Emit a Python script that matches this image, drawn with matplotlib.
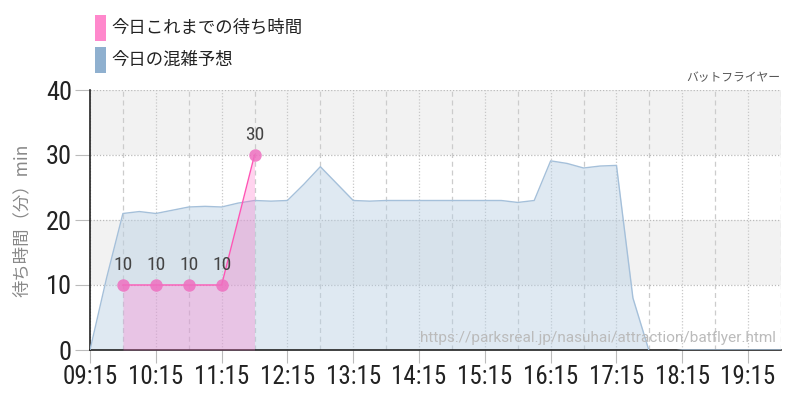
import numpy as np
import matplotlib
matplotlib.use("Agg")
import matplotlib.pyplot as plt
from matplotlib.patches import Rectangle

# forecast (blue) every 15 min
forecast_times = ["09:15", "09:30", "09:45", "10:00", "10:15", "10:30", "10:45", "11:00",
                  "11:15", "11:30", "11:45", "12:00", "12:15", "12:30", "12:45", "13:00",
                  "13:15", "13:30", "13:45", "14:00", "14:15", "14:30", "14:45", "15:00",
                  "15:15", "15:30", "15:45", "16:00", "16:15", "16:30", "16:45", "17:00",
                  "17:15", "17:30", "17:45", "18:00", "18:15", "18:30", "18:45", "19:00",
                  "19:15", "19:30", "19:45"]
forecast_wait = [0, 11, 21, 21.3, 21, 21.5, 22, 22.1,
                 22, 22.6, 23, 22.9, 23, 25.5, 28.2, 25.6,
                 23, 22.9, 23, 23, 23, 23, 23, 23,
                 23, 23, 22.7, 23, 29.1, 28.7, 28.0, 28.3,
                 28.4, 8, -0.3, -0.3, 0, 0, 0, 0,
                 0, 0, 0]

# actual (pink)
actual_times = ["09:45", "10:15", "10:45", "11:15", "11:45"]
actual_wait = [10, 10, 10, 10, 30]

hour_labels = ["09:15", "10:15", "11:15", "12:15", "13:15", "14:15",
               "15:15", "16:15", "17:15", "18:15", "19:15"]

legend_labels = ["今日これまでの待ち時間", "今日の混雑予想"]
legend_colors = ["#ff88cc", "#8fb0cf"]
title = "バットフライヤー"
ylabel = "待ち時間（分）min"
source_url = "https://parksreal.jp/nasuhai/attraction/batflyer.html"


def to_min(s):
    h, m = s.split(":")
    return int(h) * 60 + int(m)


fx = np.array([to_min(t) for t in forecast_times])
fy = np.array(forecast_wait)
ax_ = np.array([to_min(t) for t in actual_times])
ay = np.array(actual_wait)

num_font = "Roboto Condensed"
cjk = ["Noto Sans CJK JP", "DejaVu Sans"]

fig = plt.figure(figsize=(8, 4), dpi=100)
ax = fig.add_axes([90 / 800, 50 / 400, 691 / 800, 260 / 400])

xmin, xmax = to_min("09:15"), to_min("19:45")
ax.set_xlim(xmin, xmax)
ax.set_ylim(0, 40)

# background bands
for lo, hi, c in [(0, 10, "white"), (10, 20, "#f2f2f2"), (20, 30, "white"), (30, 40, "#f2f2f2")]:
    ax.axhspan(lo, hi, color=c, zorder=0, lw=0)

# grid
for t in range(xmin, xmax + 1, 30):
    if (t - xmin) % 60 == 0:
        ax.axvline(t, color="#c8c8c8", lw=0.9, ls=(0, (1, 1.5)), zorder=1)
    else:
        ax.axvline(t, color="#cccccc", lw=0.9, ls=(0, (4, 3)), zorder=1)
for v in [10, 20, 30, 40]:
    ax.axhline(v, color="#bbbbbb", lw=0.9, ls=(0, (1, 1.5)), zorder=1)

# forecast
ax.fill_between(fx, fy, 0, color="#b8cfe3", alpha=0.45, lw=0, zorder=2)
ax.plot(fx, fy, color="#a5c0da", lw=1.0, zorder=3)

# actual
ax.fill_between(ax_, ay, 0, color="#ff70c8", alpha=0.3, lw=0, zorder=4)
ax.plot(ax_, ay, color="#ff55b5", lw=1.0, zorder=5)
ax.plot(ax_, ay, "o", ms=9, color="#ee70c0", alpha=0.85, mec="none", zorder=6)
for x, y in zip(ax_, ay):
    ax.annotate(str(y), (x, y), xytext=(0, 8), textcoords="offset points",
                ha="center", va="bottom", fontsize=14, family=num_font,
                color="#444444", zorder=7)

# axes styling
for s in ["top", "right"]:
    ax.spines[s].set_visible(False)
ax.spines["left"].set_color("#222222")
ax.spines["bottom"].set_color("#222222")
ax.spines["left"].set_linewidth(1.2)
ax.spines["bottom"].set_linewidth(1.2)

ax.set_yticks([0, 10, 20, 30, 40])
ax.set_xticks([to_min(t) for t in hour_labels])
ax.set_xticklabels(hour_labels)
ax.tick_params(axis="y", length=11, width=0.8, color="#bbbbbb", pad=2, labelsize=19, labelcolor="#222222")
ax.tick_params(axis="x", length=9, width=0.8, color="#bbbbbb", pad=2, labelsize=18, labelcolor="#222222")
for lab in ax.get_xticklabels() + ax.get_yticklabels():
    lab.set_family(num_font)

ax.set_ylabel(ylabel, family=cjk, fontsize=12.5, color="#888888")
ax.yaxis.set_label_coords(-0.085, 0.5)

# title and source
fig.text(780 / 800, 1 - 78 / 400, title, ha="right", va="center", family=cjk, fontsize=8.5, color="#555555")
ax.text(0.993, 0.045, source_url, transform=ax.transAxes, ha="right", va="center",
        family="Roboto", fontsize=11.1, color="#bbbbbb", zorder=8)

# legend
for i, (lab, c) in enumerate(zip(legend_labels, legend_colors)):
    top = 15 + i * 32
    fig.patches.append(Rectangle((95 / 800, 1 - (top + 26) / 400), 11 / 800, 26 / 400,
                                 transform=fig.transFigure, color=c, lw=0))
    fig.text(111 / 800, 1 - (top + 13) / 400, lab, ha="left", va="center",
             family=cjk, fontsize=12.5, color="#222222")

fig.savefig("out.png", dpi=100)
